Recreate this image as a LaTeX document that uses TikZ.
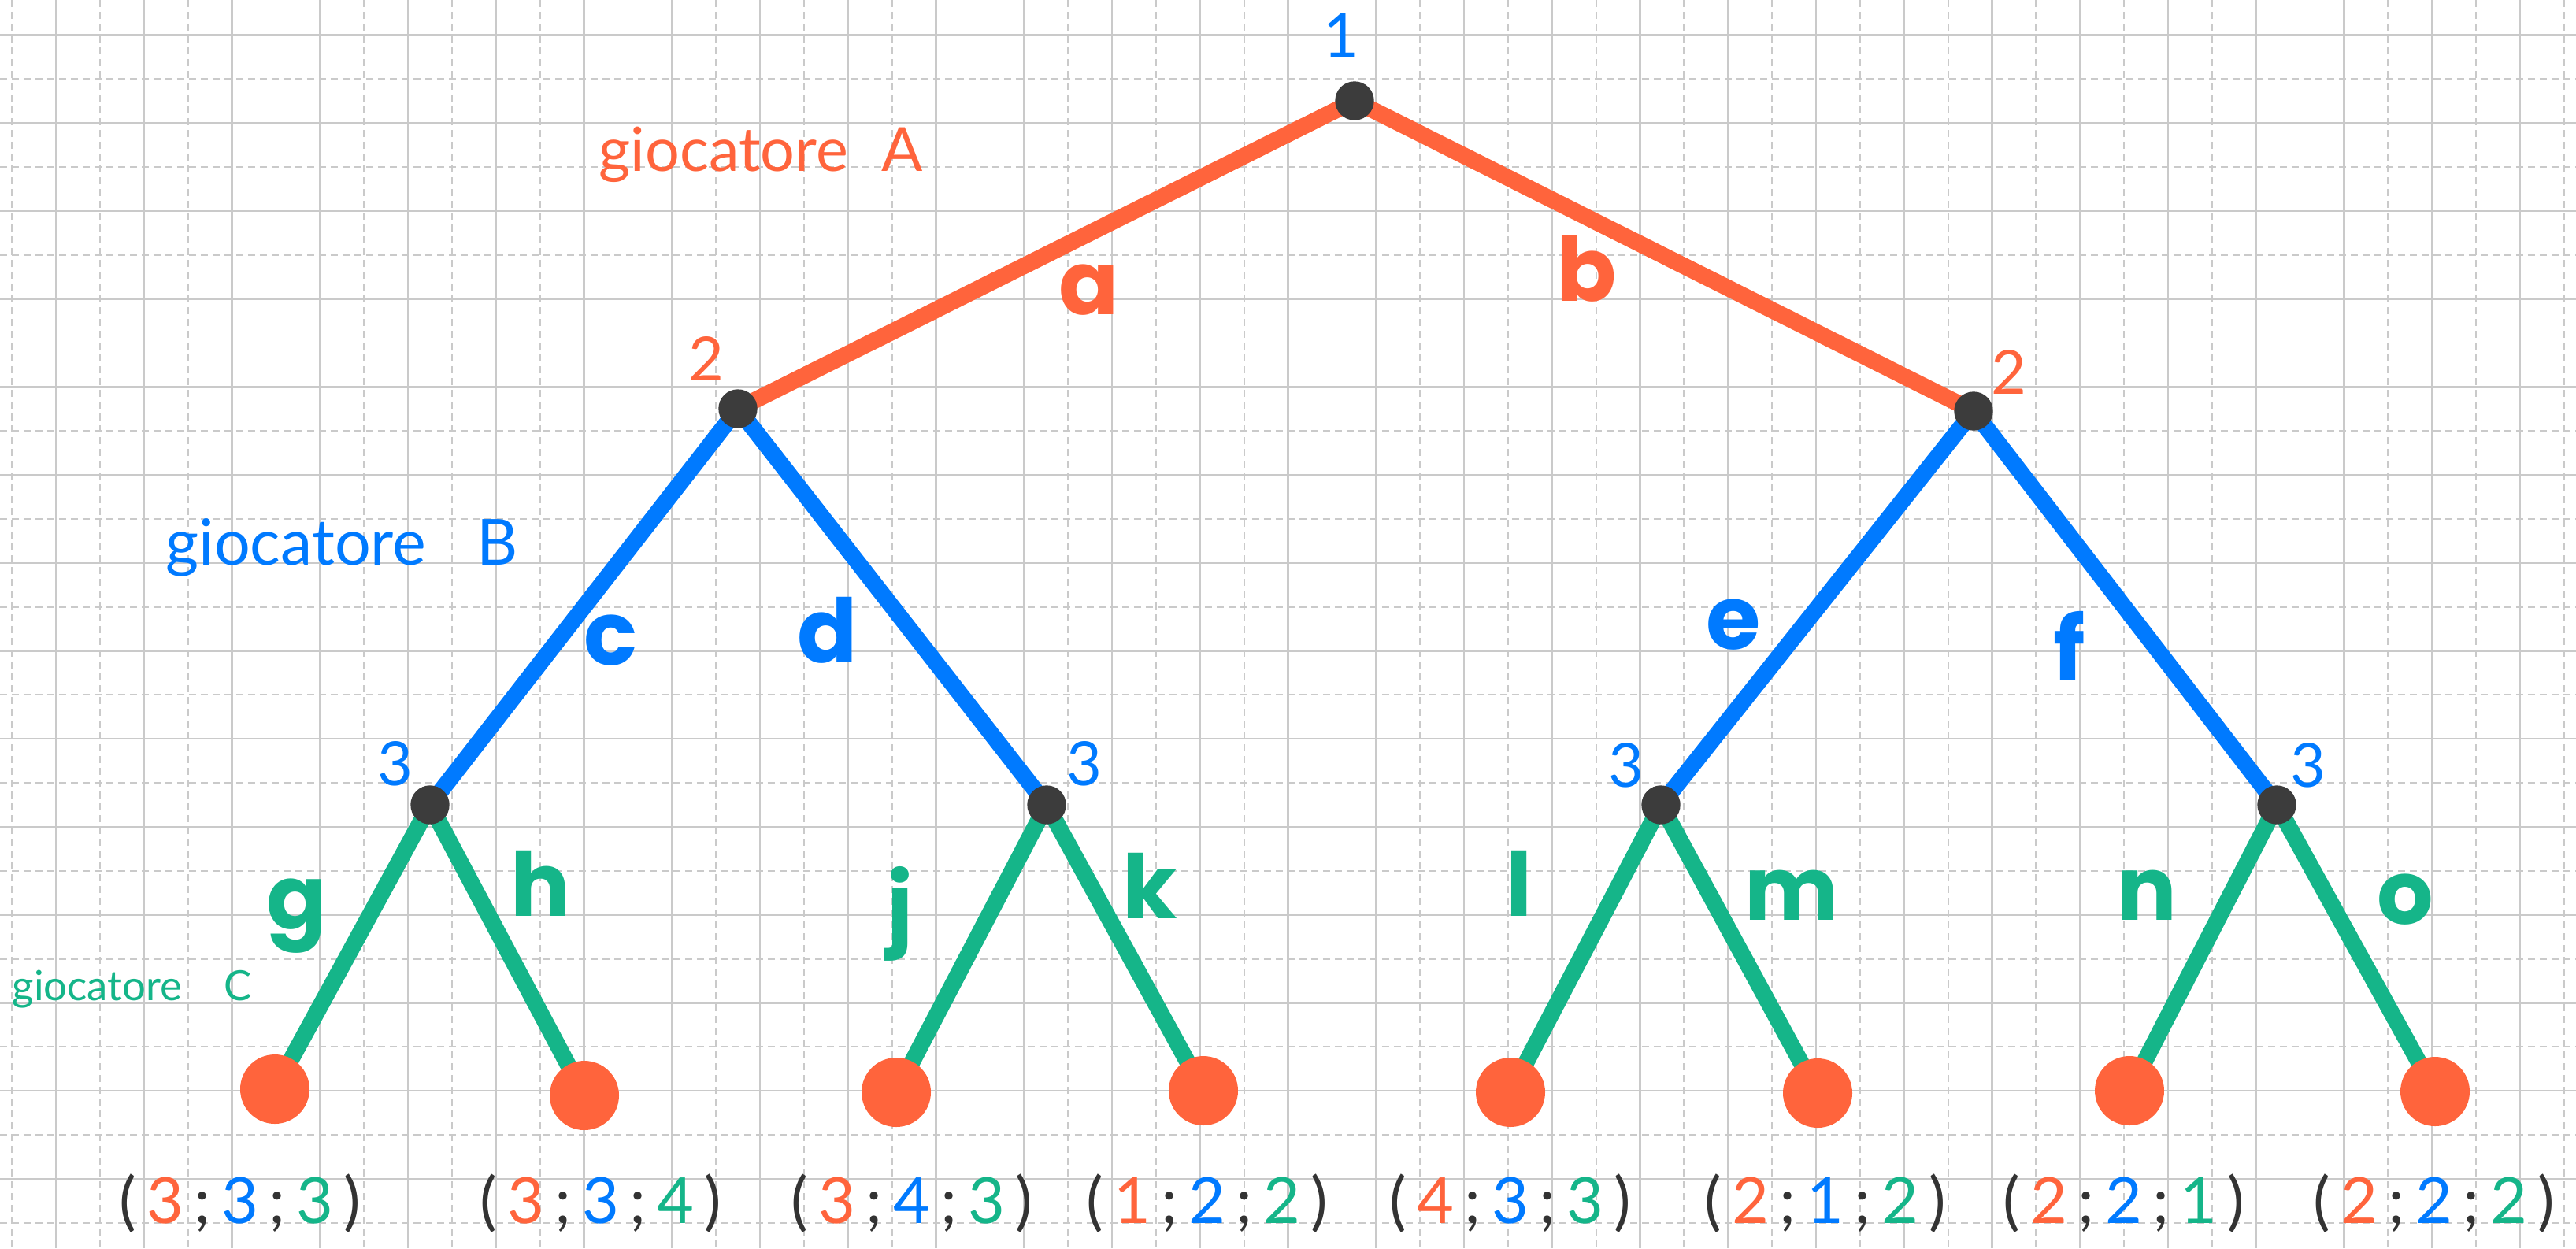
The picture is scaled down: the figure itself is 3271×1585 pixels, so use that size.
\documentclass[tikz,border=0pt]{standalone}
\usepackage{fontspec}
\setmainfont{Lato}
\newfontfamily\markfont{Poppins}
\definecolor{pOr}{HTML}{FF643C}
\definecolor{pBl}{HTML}{007AFF}
\definecolor{pGr}{HTML}{15B589}
\definecolor{nodeDk}{HTML}{3C3C3C}
\definecolor{ink}{HTML}{333333}
\definecolor{gridc}{HTML}{CACACA}
\pgfdeclarelayer{gridlayer}
\pgfdeclarelayer{edgelayer}
\pgfsetlayers{gridlayer,edgelayer,main}
\newcommand{\paytuple}[3]{(\,\textcolor{pOr}{#1}\,;\,\textcolor{pBl}{#2}\,;\,\textcolor{pGr}{#3}\,)}
\tikzset{
  decnode/.style={circle, fill=nodeDk, minimum size=4.94mm, inner sep=0pt},
  leafnode/.style={circle, fill=pOr, minimum size=8.8mm, inner sep=0pt},
  edgeA/.style={pOr, line width=2.1mm},
  edgeB/.style={pBl, line width=2.1mm},
  edgeC/.style={pGr, line width=2.1mm},
  movelab/.style={font=\fontsize{32}{36}\selectfont\markfont\bfseries, inner sep=0pt},
  numlab/.style={font=\fontsize{22}{24}\selectfont, inner sep=0pt},
  playerlab/.style={inner sep=0pt, anchor=base west},
  paylab/.style={font=\fontsize{23}{26}\selectfont, text=ink, inner sep=0pt, anchor=base},
  gridsolid/.style={gridc, line width=0.25mm},
  griddash/.style={gridc, line width=0.18mm, dash pattern=on 0.9mm off 0.6mm},
}
\begin{document}
\begin{tikzpicture}[x=0.1mm, y=-0.1mm]
\useasboundingbox (0,0) rectangle (3271,1585);
\begin{pgfonlayer}{gridlayer}
  \fill[white] (0,0) rectangle (3271,1585);
  \foreach \k in {0,2,...,58} \draw[griddash] ({15.3+55.87*\k},0) -- ({15.3+55.87*\k},1585);
  \foreach \k in {1,3,...,27} \draw[griddash] (0,{44.3+55.87*\k}) -- (3271,{44.3+55.87*\k});
  \foreach \k in {1,3,...,57} \draw[gridsolid] ({15.3+55.87*\k},0) -- ({15.3+55.87*\k},1585);
  \foreach \k in {0,2,...,26} \draw[gridsolid] (0,{44.3+55.87*\k}) -- (3271,{44.3+55.87*\k});
\end{pgfonlayer}

% decision nodes
\node[decnode] (R) at (1720,128) {};
\node[decnode] (B1) at (937,519) {};
\node[decnode] (B2) at (2506,522) {};
\node[decnode] (C1) at (546,1022) {};
\node[decnode] (C2) at (1329,1022) {};
\node[decnode] (C3) at (2109,1022) {};
\node[decnode] (C4) at (2891,1022) {};
% leaves
\node[leafnode] (L1) at (349,1383) {};
\node[leafnode] (L2) at (742,1391) {};
\node[leafnode] (L3) at (1138,1387) {};
\node[leafnode] (L4) at (1528,1385) {};
\node[leafnode] (L5) at (1918,1387) {};
\node[leafnode] (L6) at (2308,1388) {};
\node[leafnode] (L7) at (2704,1385) {};
\node[leafnode] (L8) at (3092,1386) {};

\begin{pgfonlayer}{edgelayer}
  \draw[edgeA] (R.center) -- (B1.center);
  \draw[edgeA] (R.center) -- (B2.center);
  \draw[edgeB] (B1.center) -- (C1.center);
  \draw[edgeB] (B1.center) -- (C2.center);
  \draw[edgeB] (B2.center) -- (C3.center);
  \draw[edgeB] (B2.center) -- (C4.center);
  \draw[edgeC] (C1.center) -- (L1.center);
  \draw[edgeC] (C1.center) -- (L2.center);
  \draw[edgeC] (C2.center) -- (L3.center);
  \draw[edgeC] (C2.center) -- (L4.center);
  \draw[edgeC] (C3.center) -- (L5.center);
  \draw[edgeC] (C3.center) -- (L6.center);
  \draw[edgeC] (C4.center) -- (L7.center);
  \draw[edgeC] (C4.center) -- (L8.center);
\end{pgfonlayer}

% player labels
\node[playerlab, text=pOr, font=\fontsize{22}{24}\selectfont] (pA) at (760,217) {giocatore\hspace{0.55em}A};
\node[playerlab, text=pBl, font=\fontsize{23}{26}\selectfont] (pB) at (210,717) {giocatore\hspace{0.8em}B};
\node[playerlab, text=pGr, font=\fontsize{15}{17}\selectfont] (pC) at (15,1270) {giocatore\hspace{1.0em}C};

% node numbers
\node[numlab, text=pBl] (n1) at (1703,45) {1};
\node[numlab, text=pOr] (n2a) at (897,455) {2};
\node[numlab, text=pOr] (n2b) at (2551,472) {2};
\node[numlab, text=pBl] (n3a) at (502,970) {3};
\node[numlab, text=pBl] (n3b) at (1377,970) {3};
\node[numlab, text=pBl] (n3c) at (2065,972) {3};
\node[numlab, text=pBl] (n3d) at (2931,972) {3};

% move labels
\node[movelab, text=pOr] (ma) at (1383,368) {a};
\node[movelab, text=pOr] (mb) at (2015,341) {b};
\node[movelab, text=pBl] (mc) at (776,813) {c};
\node[movelab, text=pBl] (md) at (1051,800) {d};
\node[movelab, text=pBl] (me) at (2201,793) {e};
\node[movelab, text=pBl] (mf) at (2628,820) {f};
\node[movelab, text=pGr] (mg) at (377,1163) {g};
\node[movelab, text=pGr] (mh) at (686,1122) {h};
\node[movelab, text=pGr] (mj) at (1143,1160) {j};
\node[movelab, text=pGr] (mk) at (1460,1125) {k};
\node[movelab, text=pGr] (ml) at (1929,1122) {l};
\node[movelab, text=pGr] (mm) at (2275,1137) {m};
\node[movelab, text=pGr] (mn) at (2726,1137) {n};
\node[movelab, text=pGr] (mo) at (3054,1142) {o};

% payoffs
\node[paylab] (p1) at (305,1553) {\paytuple{3}{3}{3}};
\node[paylab] (p2) at (763,1553) {\paytuple{3}{3}{4}};
\node[paylab] (p3) at (1158,1553) {\paytuple{3}{4}{3}};
\node[paylab] (p4) at (1533,1553) {\paytuple{1}{2}{2}};
\node[paylab] (p5) at (1918,1553) {\paytuple{4}{3}{3}};
\node[paylab] (p6) at (2318,1553) {\paytuple{2}{1}{2}};
\node[paylab] (p7) at (2697,1553) {\paytuple{2}{2}{1}};
\node[paylab] (p8) at (3091,1553) {\paytuple{2}{2}{2}};
\end{tikzpicture}
\end{document}
